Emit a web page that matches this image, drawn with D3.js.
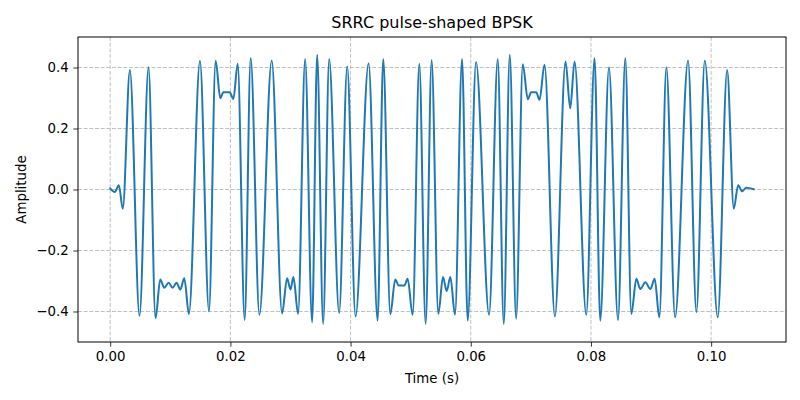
<!DOCTYPE html>
<html><head><meta charset="utf-8">
<script src="https://cdn.jsdelivr.net/npm/d3@7"></script>
<style>
body{margin:0;background:#fff;}
text{font-family:"DejaVu Sans",sans-serif;fill:#000;}
</style></head>
<body>
<svg id="chart" width="800" height="400"></svg>
<script>
// Extrema / key points of the SRRC pulse-shaped BPSK waveform
const timeS = [0.0, 0.00077, 0.00144, 0.0021, 0.00328, 0.00488, 0.00638, 0.00755, 0.00833, 0.009, 0.00972, 0.01038, 0.01105, 0.01166, 0.01233, 0.0131, 0.01494, 0.01644,
  0.01755, 0.01833, 0.01883, 0.01988, 0.0205, 0.02122, 0.02238, 0.02338, 0.02483, 0.02688, 0.0286, 0.02944, 0.03, 0.03049, 0.03127, 0.03244, 0.0336,
  0.03444, 0.03544, 0.03644, 0.0381, 0.03944, 0.04083, 0.0430, 0.0445, 0.04544, 0.04661, 0.04744, 0.048, 0.04894, 0.0495, 0.05033, 0.05144,
  0.05249, 0.05349, 0.0546, 0.05538, 0.05599, 0.0566, 0.05738, 0.05855, 0.05949, 0.06088, 0.06305, 0.06449, 0.06549, 0.06649, 0.06755, 0.06866,
  0.06949, 0.07005, 0.07088, 0.07144, 0.07227, 0.074, 0.07577, 0.07655, 0.07727, 0.07922, 0.0806, 0.08155, 0.083, 0.0845, 0.08572,
  0.08672, 0.08755, 0.08822, 0.08905, 0.08988, 0.0906, 0.09138, 0.09255, 0.094, 0.09616, 0.09755, 0.09894, 0.1011, 0.10266, 0.10377, 0.10449, 0.10516, 0.10583, 0.1071];
const amplitude = [0.004, -0.008, 0.014, -0.063, 0.392, -0.414, 0.401, -0.422, -0.295, -0.322, -0.306, -0.322, -0.306, -0.328, -0.291, -0.408, 0.422, -0.400,
  0.422, 0.299, 0.319, 0.319, 0.297, 0.412, -0.428, 0.431, -0.411, 0.423, -0.406, -0.291, -0.328, -0.287, -0.408, 0.428, -0.435,
  0.442, -0.441, 0.428, -0.405, 0.403, -0.416, 0.414, -0.430, 0.428, -0.409, -0.295, -0.315, -0.315, -0.293, -0.411, 0.412,
  -0.441, 0.425, -0.408, -0.287, -0.333, -0.287, -0.410, 0.428, -0.430, 0.418, -0.411, 0.428, -0.441, 0.442, -0.424, 0.411,
  0.296, 0.319, 0.319, 0.294, 0.409, -0.416, 0.420, 0.266, 0.420, -0.411, 0.431, -0.430, 0.401, -0.428, 0.431,
  -0.408, -0.293, -0.326, -0.304, -0.326, -0.293, -0.419, 0.401, -0.419, 0.423, -0.402, 0.423, -0.419, 0.392, -0.063, 0.014, -0.006, 0.006, 0.001];
const xTicks = [0.00, 0.02, 0.04, 0.06, 0.08, 0.10];
const yTicks = [-0.4, -0.2, 0.0, 0.2, 0.4];
const titleText = "SRRC pulse-shaped BPSK";
const xLabel = "Time (s)";
const yLabel = "Amplitude";

const data = timeS.map((t, i) => ({t, v: amplitude[i]}));
const svg = d3.select("#chart");
const L = 78, R = 786, T = 37, B = 342;
const xMax = d3.max(timeS), pad = xMax * 0.05;
const x = d3.scaleLinear().domain([-pad, xMax + pad]).range([L, R]);
const y = d3.scaleLinear().domain([-0.5, 0.5]).range([B, T]);
const fmtY = v => d3.format(".1f")(v).replace("-", "\u2212");

// grid
const g = svg.append("g");
g.selectAll(".gx").data(xTicks).enter().append("line")
  .attr("x1", d => x(d)).attr("x2", d => x(d)).attr("y1", T).attr("y2", B)
  .attr("stroke", "#b0b0b0").attr("stroke-width", 0.8).attr("stroke-dasharray", "3.95,1.71");
g.selectAll(".gy").data(yTicks).enter().append("line")
  .attr("y1", d => y(d)).attr("y2", d => y(d)).attr("x1", L).attr("x2", R)
  .attr("stroke", "#b0b0b0").attr("stroke-width", 0.8).attr("stroke-dasharray", "3.95,1.71");

// line
const clip = svg.append("clipPath").attr("id", "clp").append("rect")
  .attr("x", L).attr("y", T).attr("width", R - L).attr("height", B - T);
svg.append("path").datum(data)
  .attr("clip-path", "url(#clp)")
  .attr("fill", "none").attr("stroke", "#1f77b4").attr("stroke-width", 2)
  .attr("stroke-linejoin", "round").attr("stroke-linecap", "round")
  .attr("d", d3.line().x(d => x(d.t)).y(d => y(d.v)).curve(d3.curveMonotoneX));

// axes
const xAxis = svg.append("g").attr("transform", `translate(0,${B})`)
  .call(d3.axisBottom(x).tickValues(xTicks).tickFormat(d3.format(".2f")).tickSize(4.67).tickPadding(4.67));
const yAxis = svg.append("g").attr("transform", `translate(${L},0)`)
  .call(d3.axisLeft(y).tickValues(yTicks).tickFormat(fmtY).tickSize(4.67).tickPadding(4.67));
[xAxis, yAxis].forEach(a => {
  a.select(".domain").remove();
  a.selectAll("line").attr("stroke", "#000").attr("stroke-width", 0.8);
  a.selectAll("text").style("font-family", "DejaVu Sans").style("font-size", "13.33px").attr("fill", "#000");
});
svg.append("rect").attr("x", L).attr("y", T).attr("width", R - L).attr("height", B - T)
  .attr("fill", "none").attr("stroke", "#000").attr("stroke-width", 1);

// labels
svg.append("text").attr("x", (L + R) / 2).attr("y", 28).attr("text-anchor", "middle")
  .style("font-size", "16px").text(titleText);
svg.append("text").attr("x", (L + R) / 2).attr("y", 383).attr("text-anchor", "middle")
  .style("font-size", "13.33px").text(xLabel);
svg.append("text").attr("transform", `translate(26,${(T + B) / 2}) rotate(-90)`).attr("text-anchor", "middle")
  .style("font-size", "13.33px").text(yLabel);
</script>
</body></html>
